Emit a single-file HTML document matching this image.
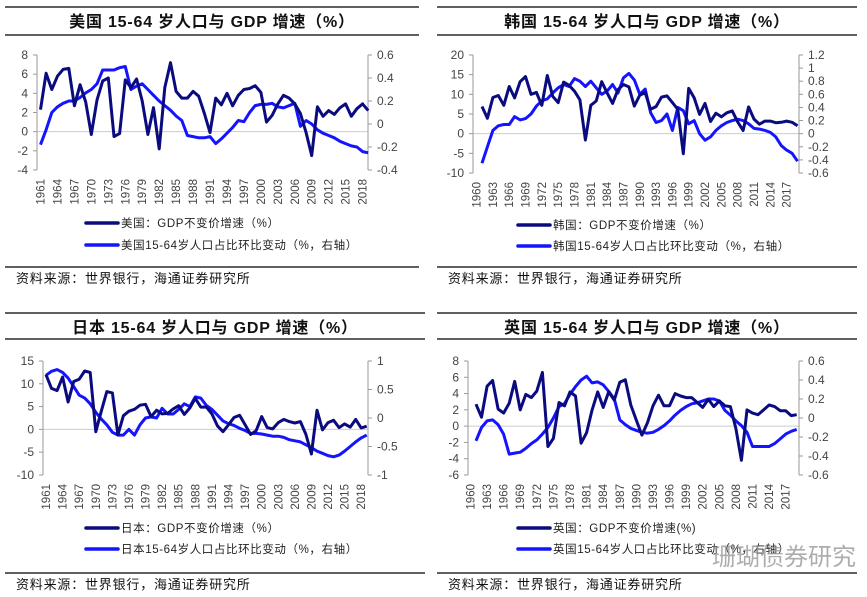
<!DOCTYPE html>
<html><head><meta charset="utf-8"><style>
body{margin:0;background:#fff}
svg{display:block;font-family:"Liberation Sans","Noto Sans CJK SC",sans-serif}
</style></head><body>
<svg id="s" width="867" height="597" viewBox="0 0 867 597" xmlns="http://www.w3.org/2000/svg"></svg>
<script>
const usGdp=[2.3,6.1,4.4,5.8,6.5,6.6,2.7,4.9,3.1,-0.3,3.3,5.3,5.6,-0.5,-0.2,5.4,4.6,5.5,3.2,-0.3,2.5,-1.8,4.6,7.2,4.2,3.5,3.5,4.2,3.7,1.9,-0.1,3.5,2.8,4.0,2.7,3.8,4.4,4.5,4.8,4.1,1.0,1.7,2.9,3.8,3.5,2.9,1.9,-0.1,-2.5,2.6,1.6,2.2,1.8,2.5,2.9,1.6,2.4,2.9,2.2];
const usPop=[-0.18,-0.05,0.1,0.15,0.18,0.2,0.2,0.23,0.27,0.3,0.35,0.47,0.47,0.47,0.49,0.5,0.3,0.33,0.35,0.3,0.25,0.2,0.16,0.12,0.07,0.03,-0.1,-0.11,-0.12,-0.12,-0.11,-0.17,-0.13,-0.08,-0.03,0.03,0.02,0.1,0.16,0.17,0.17,0.18,0.15,0.14,0.16,0.18,-0.02,0.03,0.0,-0.05,-0.08,-0.1,-0.12,-0.15,-0.17,-0.19,-0.2,-0.24,-0.25];
const krGdp=[6.9,3.9,9.2,9.7,7.2,12.0,9.1,13.2,14.5,10.0,10.5,7.2,14.8,9.5,7.9,13.1,12.3,10.8,8.6,-1.6,7.2,8.3,13.2,10.4,7.7,11.2,12.5,11.9,7.0,9.8,10.4,6.2,6.9,9.3,9.6,7.9,6.2,-5.1,11.5,9.1,4.9,7.7,3.1,5.2,4.3,5.3,5.8,3.0,0.8,6.8,3.7,2.4,3.2,3.2,2.8,2.9,3.2,2.9,2.0];
const krPop=[-0.45,-0.2,0.05,0.12,0.14,0.14,0.26,0.21,0.23,0.3,0.42,0.5,0.53,0.62,0.7,0.75,0.72,0.84,0.8,0.72,0.8,0.7,0.6,0.65,0.75,0.62,0.85,0.92,0.82,0.6,0.68,0.32,0.17,0.2,0.3,0.05,0.4,0.35,0.15,0.2,0.0,-0.1,-0.05,0.05,0.12,0.17,0.2,0.22,0.2,0.15,0.08,0.07,0.05,0.02,-0.05,-0.18,-0.25,-0.3,-0.42];
const jpGdp=[12.0,9.0,8.5,11.5,6.0,10.5,11.0,12.8,12.5,-0.5,4.0,8.3,8.0,-1.2,3.0,4.0,4.4,5.3,5.5,2.8,4.2,3.4,3.5,4.5,5.2,3.3,4.7,6.8,4.9,4.9,3.4,0.8,-0.5,1.0,2.6,3.1,1.0,-1.1,-0.3,2.8,0.4,0.1,1.5,2.2,1.7,1.4,1.7,-1.1,-5.4,4.2,-0.1,1.5,2.0,0.4,1.2,0.5,2.2,0.3,0.7];
const jpPop=[0.75,0.82,0.85,0.8,0.7,0.55,0.4,0.35,0.25,0.1,-0.02,-0.12,-0.25,-0.3,-0.3,-0.2,-0.3,-0.12,0.0,0.02,0.0,0.17,0.07,0.07,0.15,0.25,0.2,0.37,0.35,0.22,0.15,0.05,-0.05,-0.1,-0.13,-0.18,-0.22,-0.27,-0.27,-0.28,-0.3,-0.32,-0.32,-0.34,-0.38,-0.4,-0.42,-0.47,-0.52,-0.58,-0.62,-0.66,-0.68,-0.65,-0.58,-0.5,-0.42,-0.35,-0.3];
const ukGdp=[2.7,1.1,4.9,5.6,2.1,1.6,2.8,5.5,2.0,3.9,3.5,4.3,6.6,-2.5,-1.5,2.9,2.5,4.2,3.7,-2.1,-0.8,2.0,4.2,2.3,4.2,3.2,5.4,5.7,2.6,0.7,-1.1,0.4,2.5,3.8,2.5,2.5,4.0,3.7,3.5,3.5,2.9,2.3,3.3,2.4,3.1,2.5,2.4,-0.3,-4.2,2.0,1.6,1.4,2.0,2.6,2.4,1.9,1.9,1.3,1.4];
const ukPop=[-0.24,-0.1,-0.03,-0.02,-0.07,-0.17,-0.38,-0.37,-0.36,-0.32,-0.27,-0.23,-0.17,-0.1,0.0,0.12,0.15,0.25,0.33,0.4,0.44,0.37,0.38,0.35,0.28,0.2,-0.02,-0.07,-0.11,-0.13,-0.15,-0.16,-0.15,-0.12,-0.08,-0.03,0.03,0.08,0.12,0.15,0.16,0.18,0.2,0.2,0.18,0.08,0.03,-0.03,-0.08,-0.15,-0.3,-0.3,-0.3,-0.3,-0.27,-0.22,-0.17,-0.14,-0.12];
const leftTicksUS=[-4,-2,0,2,4,6,8], rightTicksUS=[-0.4,-0.2,0,0.2,0.4,0.6];
const leftTicksKR=[-10,-5,0,5,10,15,20], rightTicksKR=[-0.6,-0.4,-0.2,0,0.2,0.4,0.6,0.8,1,1.2];
const leftTicksJP=[-10,-5,0,5,10,15], rightTicksJP=[-1,-0.5,0,0.5,1];
const leftTicksUK=[-6,-4,-2,0,2,4,6,8], rightTicksUK=[-0.6,-0.4,-0.2,0,0.2,0.4,0.6];
const NS="http://www.w3.org/2000/svg", S=document.getElementById('s');
function mk(t,a,p){const e=document.createElementNS(NS,t);for(const k in a)e.setAttribute(k,a[k]);(p||S).appendChild(e);return e;}
function txt(s,a,p){const e=mk('text',a,p);e.textContent=s;return e;}
const NAVY="#0b0b80", BLUE="#1414ff";
function panel(P){
  const g=mk('g',{});
  
  
  mk('line',{x1:P.fx1,x2:P.fx2,y1:P.ty1,y2:P.ty1,stroke:'#000','stroke-width':1.3},g);
  mk('line',{x1:P.fx1,x2:P.fx2,y1:P.ty2,y2:P.ty2,stroke:'#000','stroke-width':1.3},g);
  const t=txt(P.title,{x:(P.fx1+P.fx2)/2,y:P.ty1+20,'text-anchor':'middle','font-size':16,'font-weight':'bold','letter-spacing':0.8,fill:'#111'},g);
  
  
  const yL=v=>P.yTop+(P.lMax-v)/(P.lMax-P.lMin)*(P.yBot-P.yTop);
  const yR=v=>P.yTop+(P.rMax-v)/(P.rMax-P.rMin)*(P.yBot-P.yTop);
  const xY=yr=>P.x0+(yr-P.y0)*P.step;
  mk('line',{x1:P.ax,x2:P.rx,y1:yL(0),y2:yL(0),stroke:'#ccc','stroke-width':1},g);
  const la=mk('line',{x1:P.ax,x2:P.ax,y1:P.yTop,y2:P.yBot,stroke:'#999','stroke-width':1},g);
  
  
  P.lt.forEach(v=>{mk('line',{x1:P.ax-4,x2:P.ax,y1:yL(v),y2:yL(v),stroke:'#999'},g);
    const e=txt(String(v),{x:P.ax-9,y:yL(v)+4,'text-anchor':'end','font-size':12,fill:'#444'},g);
    
    });
  const ra=mk('line',{x1:P.rx,x2:P.rx,y1:P.yTop,y2:P.yBot,stroke:'#999','stroke-width':1},g);
  
  
  P.rt.forEach(v=>{mk('line',{x1:P.rx,x2:P.rx+4,y1:yR(v),y2:yR(v),stroke:'#999'},g);
    const e=txt(String(v),{x:P.rx+9,y:yR(v)+4,'font-size':12,fill:'#444'},g);
    
    });
  for(let yr=P.labStart;yr<=2019;yr+=3){const x=xY(yr)+4;
    const e=txt(String(yr),{x:x,y:P.yBot+9,'text-anchor':'end','font-size':11.5,fill:'#444',transform:`rotate(-90 ${x} ${P.yBot+9})`},g);
    
    }
  const pts=(arr,f)=>arr.map((v,i)=>xY(1961+i).toFixed(1)+','+f(v).toFixed(1)).join(' ');
  const pb=mk('polyline',{points:pts(P.pop,yR),fill:'none',stroke:BLUE,'stroke-width':3,'stroke-linejoin':'round'},g);
  
  
  const pg=mk('polyline',{points:pts(P.gdp,yL),fill:'none',stroke:NAVY,'stroke-width':3,'stroke-linejoin':'round'},g);
  
  
  [[NAVY,P.leg1,P.lg1],[BLUE,P.leg2,P.lg2]].forEach(([c,s,y])=>{
    const lg=mk('g',{},g);
    
    
    mk('line',{x1:P.fx1+81,x2:P.fx1+113,y1:y,y2:y,stroke:c,'stroke-width':3.5,'stroke-linecap':'round'},lg);
    txt(s,{x:P.fx1+116,y:y+4,'font-size':11.5,'letter-spacing':0.6,fill:'#222'},lg);});
  mk('line',{x1:P.fx1,x2:P.fx2,y1:P.sy,y2:P.sy,stroke:'#000','stroke-width':1.3},g);
  const so=txt('资料来源：世界银行，海通证券研究所',{x:P.fx1+11,y:P.sy+16,'font-size':13,'letter-spacing':0.8,fill:'#111'},g);
  
  
}
panel({id:'us',title:'美国 15-64 岁人口与 GDP 增速（%）',fx1:5,fx2:419,ty1:7,ty2:35,ax:37,rx:368,yTop:55,yBot:170,lMin:-4,lMax:8,rMin:-0.4,rMax:0.6,lt:leftTicksUS,rt:rightTicksUS,x0:40.5,y0:1961,step:5.65,labStart:1961,gdp:usGdp,pop:usPop,leg1:'美国：GDP不变价增速（%）',leg2:'美国15-64岁人口占比环比变动（%，右轴）',lg1:223,lg2:245,sy:267});
panel({id:'korea',title:'韩国 15-64 岁人口与 GDP 增速（%）',fx1:437,fx2:857,ty1:7,ty2:35,ax:473,rx:799,yTop:55,yBot:173,lMin:-10,lMax:20,rMin:-0.6,rMax:1.2,lt:leftTicksKR,rt:rightTicksKR,x0:482,y0:1961,step:5.44,labStart:1960,gdp:krGdp,pop:krPop,leg1:'韩国：GDP不变价增速（%）',leg2:'韩国15-64岁人口占比环比变动（%，右轴）',lg1:225,lg2:246,sy:267});
panel({id:'japan',title:'日本 15-64 岁人口与 GDP 增速（%）',fx1:5,fx2:425,ty1:313,ty2:339,ax:43,rx:368,yTop:361,yBot:475,lMin:-10,lMax:15,rMin:-1,rMax:1,lt:leftTicksJP,rt:rightTicksJP,x0:46,y0:1961,step:5.53,labStart:1961,gdp:jpGdp,pop:jpPop,leg1:'日本：GDP不变价增速（%）',leg2:'日本15-64岁人口占比环比变动（%，右轴）',lg1:528,lg2:549,sy:573});
panel({id:'uk',title:'英国 15-64 岁人口与 GDP 增速（%）',fx1:437,fx2:857,ty1:313,ty2:339,ax:468,rx:799,yTop:361,yBot:475,lMin:-6,lMax:8,rMin:-0.6,rMax:0.6,lt:leftTicksUK,rt:rightTicksUK,x0:476,y0:1961,step:5.53,labStart:1960,gdp:ukGdp,pop:ukPop,leg1:'英国：GDP不变价增速(%)',leg2:'英国15-64岁人口占比环比变动（%，右轴）',lg1:528,lg2:549,sy:573});
const wm=txt('珊瑚债券研究',{x:712,y:565,'font-size':24,fill:'#999',opacity:0.8});


</script>
</body></html>
